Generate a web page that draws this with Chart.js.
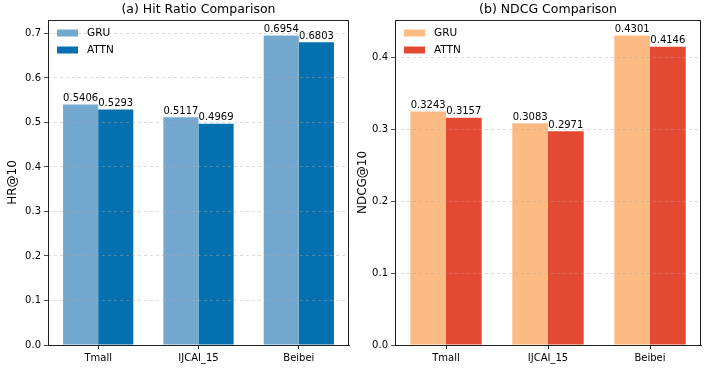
<!DOCTYPE html>
<html>
<head>
<meta charset="utf-8">
<script src="https://cdn.jsdelivr.net/npm/chart.js@4/dist/chart.umd.min.js"></script>
<style>
  html, body { margin: 0; padding: 0; background: #fff; }
  #wrap { position: relative; width: 705px; height: 370px; overflow: hidden; }
  #c1 { position: absolute; left: 0; top: 0; }
  #c2 { position: absolute; left: 355px; top: 0; }
</style>
</head>
<body>
<div id="wrap">
  <canvas id="c1" width="355" height="370"></canvas>
  <canvas id="c2" width="350" height="370"></canvas>
</div>
<script>
// ---- data ----
const categories = ["Tmall", "IJCAI_15", "Beibei"];
const seriesNames = ["GRU", "ATTN"];
const hrGRU  = [0.5406, 0.5117, 0.6954];
const hrATTN = [0.5293, 0.4969, 0.6803];
const ndcgGRU  = [0.3243, 0.3083, 0.4301];
const ndcgATTN = [0.3157, 0.2971, 0.4146];
const hrTicks = [0.0, 0.1, 0.2, 0.3, 0.4, 0.5, 0.6, 0.7];
const ndcgTicks = [0.0, 0.1, 0.2, 0.3, 0.4];

const FONT = "'DejaVu Sans', sans-serif";

const frameAndLabels = {
  id: 'frameAndLabels',
  afterDatasetsDraw(chart) {
    const ctx = chart.ctx;
    ctx.save();
    ctx.font = "10px " + FONT;
    ctx.fillStyle = "#000";
    ctx.textAlign = "center";
    ctx.textBaseline = "bottom";
    chart.data.datasets.forEach((ds, i) => {
      const meta = chart.getDatasetMeta(i);
      meta.data.forEach((bar, j) => {
        ctx.fillText(ds.data[j].toFixed(4), bar.x, bar.y - 1);
      });
    });
    ctx.restore();
  },
  afterDraw(chart, args, opts) {
    const ctx = chart.ctx;
    const a = chart.chartArea;
    ctx.save();
    // frame
    ctx.strokeStyle = "#222";
    ctx.lineWidth = 1;
    ctx.strokeRect(Math.round(a.left) + 0.5, Math.round(a.top) + 0.5,
                   Math.round(a.right - a.left) - 1, Math.round(a.bottom - a.top));
    // title centred over the plot area
    ctx.fillStyle = "#000";
    ctx.font = "12.5px " + FONT;
    ctx.textAlign = "center";
    ctx.textBaseline = "middle";
    ctx.fillText(opts.title, (a.left + a.right) / 2, 10);
    // legend
    ctx.font = "10.5px " + FONT;
    ctx.textBaseline = "middle";
    ctx.textAlign = "left";
    chart.data.datasets.forEach((ds, i) => {
      const y = a.top + 13 + i * 17;
      ctx.fillStyle = ds.backgroundColor;
      ctx.fillRect(a.left + 9, y - 3.5, 21, 7);
      ctx.fillStyle = "#000";
      ctx.fillText(ds.label, a.left + 39, y);
    });
    ctx.restore();
  }
};

function makeChart(id, title, yTitle, gru, attn, colors, ticks, yAxisWidth, padRight, titlePad) {
  const yMax = Math.max(...gru, ...attn) * 1.05;
  return new Chart(document.getElementById(id), {
    type: 'bar',
    data: {
      labels: categories,
      datasets: [
        { label: seriesNames[0], data: gru, backgroundColor: colors[0], borderWidth: 0,
          categoryPercentage: 0.7, barPercentage: 1.0 },
        { label: seriesNames[1], data: attn, backgroundColor: colors[1], borderWidth: 0,
          categoryPercentage: 0.7, barPercentage: 1.0 }
      ]
    },
    options: {
      responsive: false,
      animation: false,
      devicePixelRatio: 1,
      layout: { padding: { left: 0, right: padRight, top: 20, bottom: 0 } },
      plugins: {
        legend: { display: false },
        tooltip: { enabled: false },
        title: { display: false },
        frameAndLabels: { title: title }
      },
      scales: {
        x: {
          afterFit(scale) { scale.height = 25; },
          grid: { display: true, drawOnChartArea: false, drawTicks: true, tickLength: 4,
                  tickColor: "#222", offset: false },
          border: { display: true, color: "#222", width: 1 },
          ticks: { color: "#000", font: { family: FONT, size: 10 }, padding: 3, maxRotation: 0 }
        },
        y: {
          min: 0, max: yMax,
          afterFit(scale) { scale.width = yAxisWidth; },
          afterBuildTicks(scale) { scale.ticks = ticks.map(v => ({ value: v })); },
          ticks: { color: "#000", font: { family: FONT, size: 10 }, padding: 3,
                   callback: (v) => Number(v).toFixed(1) },
          grid: { display: true, drawOnChartArea: true, drawTicks: true, tickLength: 4,
                  color: "rgba(170,170,170,0.55)", lineWidth: 0.8, tickColor: "#222",
                  tickBorderDash: [], z: 1 },
          border: { display: false, color: "#222", width: 1, dash: [3, 3] },
          title: { display: true, text: yTitle, color: "#000",
                   font: { family: FONT, size: 12 }, padding: { top: titlePad, bottom: 0 } }
        }
      }
    },
    plugins: [frameAndLabels]
  });
}

makeChart('c1', '(a) Hit Ratio Comparison', 'HR@10', hrGRU, hrATTN,
          ['#74a9cf', '#0570b0'], hrTicks, 48, 6, 6);
makeChart('c2', '(b) NDCG Comparison', 'NDCG@10', ndcgGRU, ndcgATTN,
          ['#fdbb84', '#e34a33'], ndcgTicks, 40, 4, 1);
</script>
</body>
</html>
